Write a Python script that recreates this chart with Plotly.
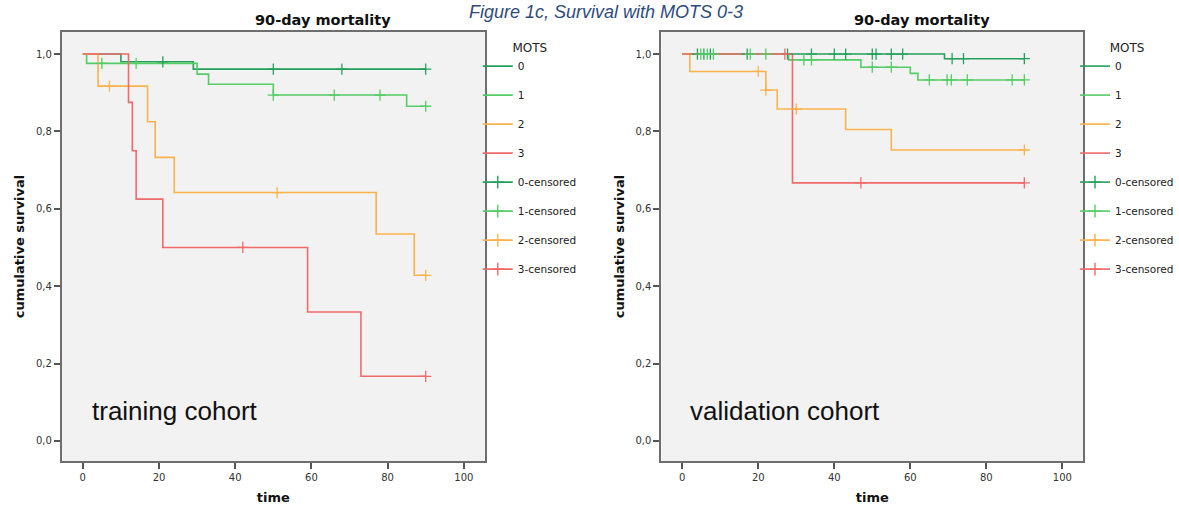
import plotly.graph_objects as go

# ---------------- data ----------------
groups = ["0", "1", "2", "3"]
colors = ["#25a05c", "#55cc66", "#fbb24c", "#f06a6a"]
x_ticks = [0, 20, 40, 60, 80, 100]
y_ticks = [0.0, 0.2, 0.4, 0.6, 0.8, 1.0]
end_time = 90

# training cohort: event times, survival after each event, censor times
tr_g0_t = [10, 29]
tr_g0_s = [0.980, 0.961]
tr_g0_c = [21, 50, 68, 90]

tr_g1_t = [1, 30, 33, 50, 85]
tr_g1_s = [0.976, 0.948, 0.922, 0.894, 0.865]
tr_g1_c = [5, 14, 50, 66, 78, 90]

tr_g2_t = [4, 17, 19, 24, 77, 87]
tr_g2_s = [0.917, 0.825, 0.733, 0.642, 0.535, 0.428]
tr_g2_c = [7, 51, 90]

tr_g3_t = [12, 13, 14, 21, 59, 73]
tr_g3_s = [0.875, 0.750, 0.625, 0.500, 0.333, 0.167]
tr_g3_c = [42, 90]

# validation cohort
va_g0_t = [69]
va_g0_s = [0.988]
va_g0_c = [4.0, 5.7, 7.4, 17.1, 27.7, 34, 40, 43, 50, 51, 55, 58, 71, 74, 90]

va_g1_t = [28, 47, 60, 62]
va_g1_s = [0.985, 0.966, 0.950, 0.933]
va_g1_c = [4.9, 6.6, 8.2, 17.9, 22, 32, 34, 50, 55, 65, 69.7, 70.8, 75, 86.8, 90]

va_g2_t = [2, 22, 25, 43, 55]
va_g2_s = [0.955, 0.907, 0.858, 0.805, 0.752]
va_g2_c = [20, 22, 30, 90]

va_g3_t = [29]
va_g3_s = [0.667]
va_g3_c = [27, 47, 90]

training = [(tr_g0_t, tr_g0_s, tr_g0_c), (tr_g1_t, tr_g1_s, tr_g1_c),
            (tr_g2_t, tr_g2_s, tr_g2_c), (tr_g3_t, tr_g3_s, tr_g3_c)]
validation = [(va_g0_t, va_g0_s, va_g0_c), (va_g1_t, va_g1_s, va_g1_c),
              (va_g2_t, va_g2_s, va_g2_c), (va_g3_t, va_g3_s, va_g3_c)]


def surv_at(times, surv, t):
    s = 1.0
    for ti, si in zip(times, surv):
        if ti <= t:
            s = si
    return s


fig = go.Figure()


def add_cohort(data, xa, ya, legend):
    # step lines
    for g, col, (t, s, c) in zip(groups, colors, data):
        fig.add_trace(go.Scatter(
            x=[0] + t + [end_time], y=[1.0] + s + [s[-1]],
            mode="lines", line=dict(shape="hv", color=col, width=1.6),
            name=g, legendgroup=legend + g, xaxis=xa, yaxis=ya, legend=legend,
            hoverinfo="skip"))
    # legend entries for censored
    for g, col in zip(groups, colors):
        fig.add_trace(go.Scatter(
            x=[None], y=[None], mode="lines+markers",
            line=dict(color=col, width=1.6),
            marker=dict(symbol="cross-thin", size=9, line=dict(color=col, width=1.4)),
            name=g + "-censored", legendgroup=legend + g + "c",
            xaxis=xa, yaxis=ya, legend=legend))
    # censor marks
    for g, col, (t, s, c) in zip(groups, colors, data):
        fig.add_trace(go.Scatter(
            x=c, y=[surv_at(t, s, ci) for ci in c], mode="markers",
            marker=dict(symbol="cross-thin", size=8, line=dict(color=col, width=1.3)),
            showlegend=False, legendgroup=legend + g + "c",
            xaxis=xa, yaxis=ya, legend=legend, hoverinfo="skip"))


add_cohort(training, "x", "y", "legend")
add_cohort(validation, "x2", "y2", "legend2")

W, H = 1179, 506
tickfont = dict(family="DejaVu Sans", size=10, color="#333333")
titlefont = dict(family="DejaVu Sans", size=13, color="#111111", weight="bold")

common_x = dict(range=[-5.5, 105.5], tickvals=x_ticks, showline=True, mirror=True,
                linecolor="#6e6e6e", linewidth=2, ticks="outside", ticklen=6,
                tickcolor="#555555", tickwidth=1.5, showgrid=False, zeroline=False,
                tickfont=tickfont,
                title=dict(text="time", font=titlefont, standoff=11))
common_y = dict(range=[-0.052, 1.057], tickvals=y_ticks, tickformat=".1f",
                showline=True, mirror=True, linecolor="#6e6e6e", linewidth=2,
                ticks="outside", ticklen=6, tickcolor="#555555", tickwidth=1.5,
                showgrid=False, zeroline=False, tickfont=tickfont,
                title=dict(text="cumulative survival", font=titlefont, standoff=8),
                domain=[1 - 461 / H, 1 - 32 / H])

legend_common = dict(yanchor="top", xanchor="left", y=1 - 36 / H,
                     bgcolor="rgba(0,0,0,0)", borderwidth=0, itemwidth=30,
                     font=dict(family="DejaVu Sans", size=10.5, color="#222222"),
                     title=dict(text="MOTS", side="top center",
                                font=dict(family="DejaVu Sans", size=12, color="#222222")),
                     itemclick=False, itemdoubleclick=False)

fig.update_layout(
    width=W, height=H, autosize=False,
    margin=dict(l=0, r=0, t=0, b=0),
    paper_bgcolor="white", plot_bgcolor="#f2f2f2",
    separators=",.",
    xaxis=dict(domain=[62 / W, 486 / W], anchor="y", **common_x),
    yaxis=dict(anchor="x", **common_y),
    xaxis2=dict(domain=[663 / W, 1086 / W], anchor="y2", **common_x),
    yaxis2=dict(anchor="x2", **common_y),
    legend=dict(x=479 / W, **legend_common),
    legend2=dict(x=1078 / W, **legend_common),
    showlegend=True,
)

title_font = dict(family="DejaVu Sans", size=14.5, color="#111111", weight="bold")
fig.add_annotation(text="90-day mortality", xref="paper", yref="paper",
                   x=324 / W, y=1 - 20 / H, xanchor="center", yanchor="middle",
                   showarrow=False, font=title_font)
fig.add_annotation(text="90-day mortality", xref="paper", yref="paper",
                   x=924 / W, y=1 - 20 / H, xanchor="center", yanchor="middle",
                   showarrow=False, font=title_font)

cohort_font = dict(family="Liberation Sans, Arial", size=26, color="#111111")
fig.add_annotation(text="training cohort", xref="x", yref="y", x=1.8, y=0.076,
                   xanchor="left", yanchor="middle", showarrow=False, font=cohort_font)
fig.add_annotation(text="validation cohort", xref="x2", yref="y2", x=1.6, y=0.076,
                   xanchor="left", yanchor="middle", showarrow=False, font=cohort_font)

# page header (cut off at the top of the reference) kept fully inside the canvas
fig.add_annotation(text="Figure 1c, Survival with MOTS 0-3", xref="paper", yref="paper",
                   x=608 / W, y=1, xanchor="center", yanchor="top",
                   showarrow=False,
                   font=dict(family="Liberation Sans, Arial", size=18, color="#2f4b7c",
                             style="italic"))

fig.write_html("out.html")
